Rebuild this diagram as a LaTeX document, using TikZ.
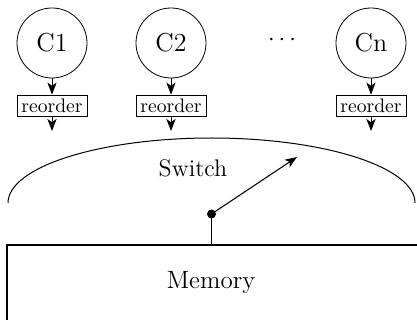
\documentclass[tikz,border=0pt]{standalone}
\usetikzlibrary{arrows.meta}
\begin{document}
\begin{tikzpicture}[x=0.5pt,y=-0.5pt,
  core/.style={draw,circle,minimum size=35pt,inner sep=0pt,font=\fontsize{13}{15}\selectfont},
  reo/.style={draw,rectangle,minimum width=35pt,minimum height=10.5pt,inner xsep=2pt,inner ysep=1pt,font=\fontsize{9.8}{11}\selectfont},
  arr/.style={-{Stealth[length=6pt,width=4.6pt,inset=1.6pt]},line width=0.5pt},
  lbl/.style={font=\fontsize{12}{14}\selectfont}]
\useasboundingbox (0,0) rectangle (417,320);
\clip (0,0) rectangle (417,320);
% cores
\node[core] (c1) at (52,43) {C1};
\node[core] (c2) at (171,43) {C2};
\node[core] (cn) at (371,43) {Cn};
\node[lbl] (dots) at (282,40) {$\cdots$};
% reorder boxes
\node[reo] (r1) at (52,105.5) {reorder};
\node[reo] (r2) at (171,105.5) {reorder};
\node[reo] (rn) at (371,105.5) {reorder};
\coordinate (o1) at (52,131);
\coordinate (o2) at (171,131);
\coordinate (on) at (371,131);
\draw[arr] (c1) -- (r1);
\draw[arr] (c2) -- (r2);
\draw[arr] (cn) -- (rn);
\draw[arr] (r1) -- (o1);
\draw[arr] (r2) -- (o2);
\draw[arr] (rn) -- (on);
% switch
\coordinate (swl) at (8,203);
\draw[line width=0.5pt] (swl) arc[start angle=180,end angle=0,x radius=203.5,y radius=-65];
\node[lbl] (sw) at (193,168) {Switch};
\node[circle,fill,inner sep=0pt,minimum size=4.5pt] (dot) at (211.5,214) {};
\coordinate (tip) at (297,157);
\draw[arr] (dot.center) -- (tip);
% memory
\draw[line width=0.75pt] (7,340) -- (7,245) -- (430,245);
\coordinate (memtop) at (211.5,245);
\node[lbl,font=\fontsize{12.5}{14}\selectfont] (mem) at (211,283) {Memory};
\draw[line width=0.5pt] (dot.center) -- (memtop);
\end{tikzpicture}
\end{document}
